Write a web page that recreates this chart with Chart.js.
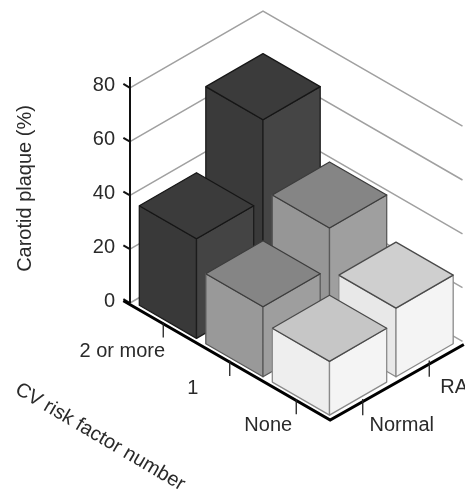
<!DOCTYPE html>
<html>
<head>
<meta charset="utf-8">
<title>Carotid plaque</title>
<script src="https://cdn.jsdelivr.net/npm/chart.js@4"></script>
<style>
  html, body { margin: 0; padding: 0; background: #fff; overflow: hidden; }
  canvas { display: block; }
</style>
</head>
<body>
<canvas id="chart" width="465" height="492"></canvas>
<script>
// values
const riskLabels = ['2 or more', '1', 'None'];
const raLabels = ['Normal', 'RA'];
const normalValues = [37, 26, 20];
const raValues = [67, 41, 25.5];
const valueTicks = [0, 20, 40, 60, 80];

const FONT = '"Liberation Sans", Arial, sans-serif';
const PX_PER_CAT = 66.5;   // one category along the floor, horizontally
const PX_PER_VAL = 2.69;   // one percent, vertically
const RISE = 38.4 / PX_PER_VAL; // floor slope expressed in percent units
const ORIGIN_X = 130, ORIGIN_Y = 303;

// u runs along CV risk factor, v along Normal/RA, h is the percent value
const project = (u, v, h) => ({ x: u + v, y: h - (u - v) * RISE });

const barStyles = [
  [{ top: '#3b3b3b', left: '#393939', right: '#444444', edge: '#161616', side: '#1c1c1c' },
   { top: '#3b3b3b', left: '#3a3a3a', right: '#454545', edge: '#161616', side: '#1c1c1c' }],
  [{ top: '#858585', left: '#999999', right: '#9e9e9e', edge: '#3c3c3c', side: '#5a5a5a' },
   { top: '#858585', left: '#969696', right: '#9f9f9f', edge: '#3c3c3c', side: '#5a5a5a' }],
  [{ top: '#c6c6c6', left: '#eeeeee', right: '#f4f4f4', edge: '#4a4a4a', side: '#8a8a8a' },
   { top: '#cfcfcf', left: '#e8e8e8', right: '#f4f4f4', edge: '#4a4a4a', side: '#8a8a8a' }]
];

function segment(points, color, width) {
  return {
    type: 'scatter', data: points, showLine: true, fill: false, tension: 0,
    borderColor: color, borderWidth: width, pointRadius: 0, clip: false,
    borderJoinStyle: 'miter'
  };
}

function face(points, fillColor, edge) {
  return {
    type: 'scatter', data: [...points, points[0]], showLine: true, fill: 'shape', tension: 0,
    backgroundColor: fillColor, borderColor: edge, borderWidth: 1.3, pointRadius: 0, clip: false,
    borderJoinStyle: 'round'
  };
}

const layers = [];

// back walls
valueTicks.forEach(v => {
  layers.push(segment([project(0, 0, v), project(0, 2, v), project(3, 2, v)], '#a0a0a0', 1.5));
});

// bars, back to front
riskLabels.forEach((_, i) => {
  [1, 0].forEach(j => {
    const h = (j === 0 ? normalValues : raValues)[i];
    const s = barStyles[i][j];
    const u0 = i + 0.1, u1 = i + 0.96, v0 = j + 0.04, v1 = j + 0.9;
    layers.push(face([project(u0, v0, 0), project(u1, v0, 0), project(u1, v0, h), project(u0, v0, h)], s.left, s.side));
    layers.push(face([project(u1, v0, 0), project(u1, v1, 0), project(u1, v1, h), project(u1, v0, h)], s.right, s.side));
    layers.push(face([project(u0, v0, h), project(u1, v0, h), project(u1, v1, h), project(u0, v1, h)], s.top, s.edge));
  });
});

// axis lines and slanted ticks
layers.push(segment([project(0, 0, 0), project(0, 0, 84)], '#111', 2));
valueTicks.forEach(v => {
  layers.push(segment([project(-0.1, 0, v), project(0, 0, v)], '#111', 2));
});
layers.push(segment([project(-0.08, -0.02, 0), project(3.03, -0.02, 0), project(3.05, 1.97, 0)], '#000', 3));
riskLabels.forEach((_, i) => {
  const p = project(i + 0.5, 0, 0);
  layers.push(segment([p, { x: p.x, y: p.y - 5.7 }], '#222', 1.3));
});
raLabels.forEach((_, j) => {
  const p = project(3, j + 0.5, 0);
  layers.push(segment([p, { x: p.x, y: p.y - 6 }], '#222', 1.3));
});

// first dataset ends up on top in Chart.js
const datasets = layers.slice().reverse();

const axisLabels = {
  id: 'axisLabels',
  afterDraw(chart) {
    const { ctx, scales: { x, y } } = chart;
    const at = (u, v) => {
      const p = project(u, v, 0);
      return [x.getPixelForValue(p.x), y.getPixelForValue(p.y)];
    };
    ctx.save();
    ctx.fillStyle = '#2a2a2a';
    ctx.font = '20px ' + FONT;
    ctx.textBaseline = 'middle';
    ctx.textAlign = 'center';
    const riskOffsets = [[-41, 29], [-37, 28], [-28, 26]];
    riskLabels.forEach((t, i) => {
      const [px, py] = at(i + 0.5, 0);
      ctx.fillText(t, px + riskOffsets[i][0], py + riskOffsets[i][1]);
    });
    const raOffsets = [[39, 26], [25, 27]];
    raLabels.forEach((t, j) => {
      const [px, py] = at(3, j + 0.5);
      ctx.fillText(t, px + raOffsets[j][0], py + raOffsets[j][1]);
    });

    ctx.save();
    ctx.translate(25, 188.5);
    ctx.rotate(-Math.PI / 2);
    ctx.fillText('Carotid plaque (%)', 0, 0);
    ctx.restore();

    ctx.save();
    ctx.translate(100, 437);
    ctx.rotate(30.5 * Math.PI / 180);
    ctx.fillText('CV risk factor number', 0, 0);
    ctx.restore();
    ctx.restore();
  }
};

new Chart(document.getElementById('chart'), {
  type: 'scatter',
  data: { datasets },
  plugins: [axisLabels],
  options: {
    responsive: false,
    animation: false,
    events: [],
    layout: { padding: 0 },
    plugins: { legend: { display: false }, tooltip: { enabled: false } },
    scales: {
      x: {
        type: 'linear', display: false,
        min: -ORIGIN_X / PX_PER_CAT, max: (465 - ORIGIN_X) / PX_PER_CAT
      },
      y: {
        type: 'linear',
        min: -(492 - ORIGIN_Y) / PX_PER_VAL, max: ORIGIN_Y / PX_PER_VAL,
        position: { x: -15 / PX_PER_CAT },
        afterBuildTicks: axis => { axis.ticks = valueTicks.map(value => ({ value })); },
        afterFit: axis => { axis.width = 0; axis.paddingTop = 0; axis.paddingBottom = 0; },
        grid: { display: false, drawTicks: false },
        border: { display: false },
        ticks: { color: '#2a2a2a', font: { family: FONT, size: 20 }, padding: 0, labelOffset: -2, autoSkip: false }
      }
    }
  }
});
</script>
</body>
</html>
